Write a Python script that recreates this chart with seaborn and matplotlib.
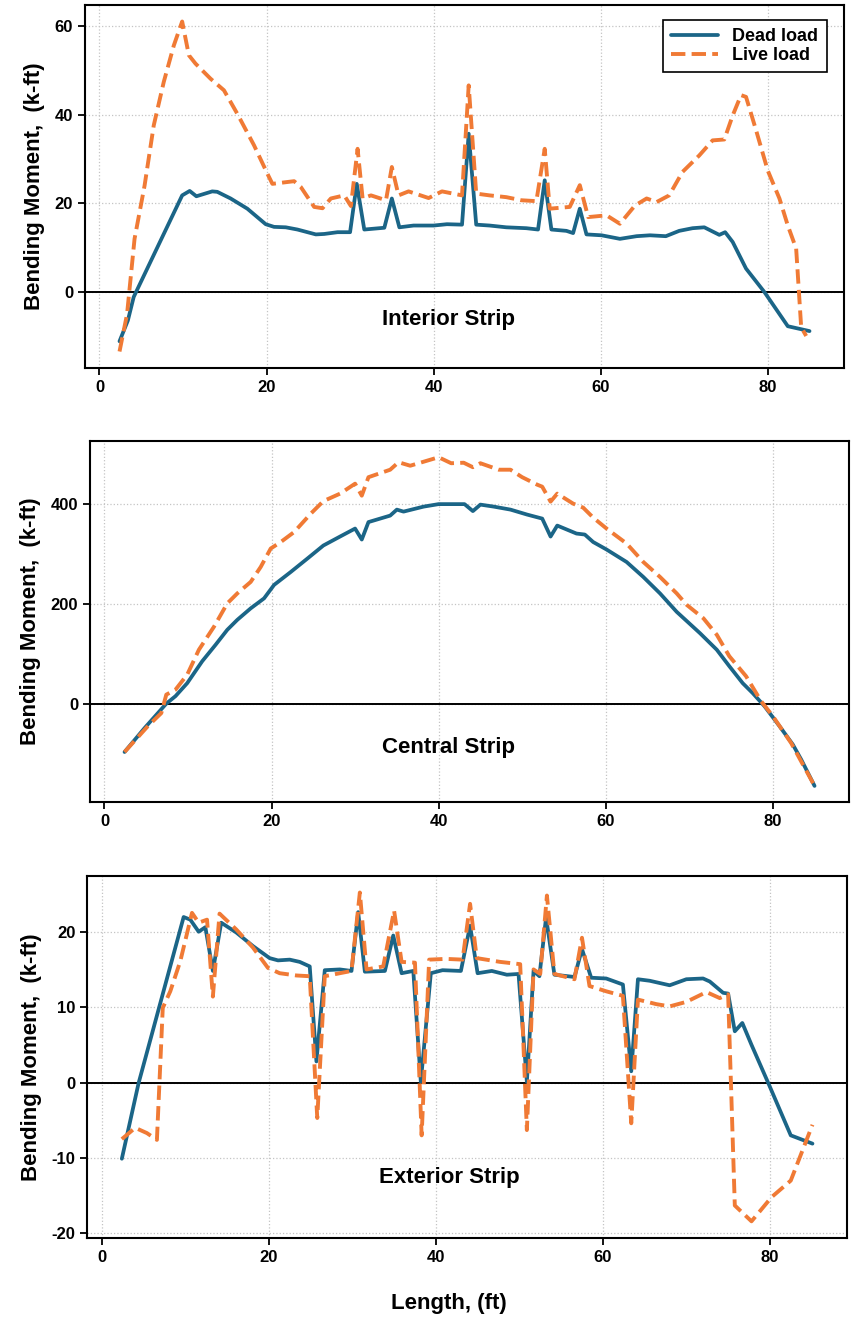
import numpy as np
import pandas as pd
import matplotlib
matplotlib.use("Agg")
import matplotlib.pyplot as plt
import matplotlib.transforms as mtransforms
import seaborn as sns

# Interior strip (k-ft)
int_dead_x = [2.4, 3.4, 4.1, 9.9, 10.8, 11.6, 13.5, 14.1, 15.7, 17.7, 19.9, 20.9, 22.3, 23.7, 25.9, 26.9,
              28.5, 30.0, 30.8, 31.7, 34.1, 35.0, 35.9, 37.6, 40.0, 41.6, 43.4, 44.2, 45.1, 46.7, 48.7, 51.1,
              52.5, 53.3, 54.1, 55.9, 56.7, 57.5, 58.3, 60.1, 62.3, 64.3, 65.9, 67.8, 69.4, 71.0, 72.4, 74.2,
              74.9, 75.8, 77.4, 79.6, 82.4, 85.0]
int_dead_y = [-11.1, -6.4, -1.1, 21.8, 22.8, 21.6, 22.7, 22.6, 21.1, 18.8, 15.3, 14.7, 14.6, 14.1, 13.0, 13.1,
              13.5, 13.5, 24.4, 14.1, 14.5, 21.1, 14.6, 15.0, 15.0, 15.3, 15.2, 35.7, 15.2, 15.0, 14.6, 14.4,
              14.1, 25.2, 14.1, 13.8, 13.3, 18.8, 13.0, 12.8, 12.0, 12.6, 12.8, 12.6, 13.8, 14.4, 14.6, 12.9,
              13.5, 11.3, 5.3, 0.0, -7.7, -8.8]
int_live_x = [2.4, 3.3, 4.2, 5.4, 6.5, 7.7, 8.9, 9.9, 10.7, 11.5, 13.3, 14.9, 16.5, 18.5, 20.1, 20.7, 23.3,
              24.1, 25.7, 26.7, 27.7, 29.3, 30.1, 30.9, 31.5, 32.5, 34.3, 35.0, 35.8, 37.0, 39.4, 41.0, 43.4,
              44.2, 45.1, 46.7, 48.7, 50.5, 52.3, 53.3, 53.9, 56.3, 57.5, 58.5, 60.7, 62.3, 64.1, 65.5, 66.7,
              68.2, 69.8, 71.8, 73.4, 74.8, 75.8, 76.8, 77.4, 78.6, 80.0, 81.4, 82.4, 83.4, 84.0, 84.6]
int_live_y = [-13.4, -5.0, 12.0, 24.0, 37.6, 47.4, 55.6, 61.0, 53.4, 51.5, 48.1, 45.5, 40.2, 33.1, 26.7, 24.4,
              25.0, 23.7, 19.2, 18.9, 21.1, 21.8, 19.4, 32.3, 21.1, 21.8, 20.7, 28.2, 21.8, 22.7, 21.2, 22.7,
              21.8, 46.6, 22.2, 21.8, 21.4, 20.7, 20.5, 32.3, 18.8, 19.2, 24.1, 16.9, 17.3, 15.4, 19.5, 21.1,
              20.3, 21.8, 27.1, 30.8, 34.2, 34.4, 39.8, 44.4, 44.0, 36.5, 27.4, 21.1, 15.0, 9.8, -7.9, -9.9]

# Central strip (k-ft)
cen_dead_x = [2.4, 4.8, 7.4, 8.5, 9.9, 11.7, 13.3, 14.7, 15.9, 17.5, 19.1, 20.3, 22.3, 24.3, 26.2, 28.2,
              30.0, 30.8, 31.6, 34.2, 35.0, 35.8, 38.2, 40.0, 43.1, 44.1, 45.0, 46.6, 48.6, 50.6, 52.4, 53.4,
              54.2, 56.5, 57.5, 58.5, 60.1, 62.5, 64.5, 66.5, 68.5, 71.3, 73.3, 74.8, 76.4, 77.6, 79.0, 80.8,
              82.4, 83.4, 85.0]
cen_dead_y = [-97, -49, 0, 15, 41, 85, 118, 148, 168, 191, 211, 238, 264, 291, 317, 335,
              351, 329, 364, 377, 389, 385, 395, 400, 400, 386, 399, 395, 389, 379, 371, 335,
              357, 341, 339, 324, 309, 284, 254, 221, 184, 141, 108, 75, 41, 21, -5, -45,
              -82, -112, -165]
cen_live_x = [2.4, 5.2, 6.8, 7.4, 8.5, 9.9, 11.3, 13.1, 14.7, 15.9, 17.5, 18.7, 19.9, 21.1, 22.7, 24.7,
              26.2, 28.2, 30.0, 30.8, 31.6, 34.2, 35.2, 36.6, 38.6, 40.0, 41.5, 43.0, 44.1, 45.0, 47.2, 48.6,
              50.0, 51.8, 52.4, 53.4, 54.2, 56.1, 57.3, 58.5, 60.1, 62.5, 64.5, 66.5, 68.5, 69.7, 71.7, 73.3,
              74.8, 76.8, 78.6, 80.0, 82.2, 85.0]
cen_live_y = [-97, -45, -19, 18, 28, 58, 108, 154, 201, 221, 244, 274, 311, 324, 344, 381,
              406, 421, 441, 417, 454, 469, 484, 477, 487, 494, 482, 483, 474, 482, 469, 469,
              454, 439, 435, 405, 421, 401, 393, 373, 351, 321, 284, 254, 221, 198, 171, 138,
              95, 55, 5, -25, -79, -165]

# Exterior strip (k-ft)
ext_dead_x = [2.4, 4.4, 9.8, 10.6, 11.6, 12.4, 13.3, 14.3, 16.1, 18.1, 20.1, 21.1, 22.5, 23.7, 24.9, 25.7,
              26.7, 28.5, 29.9, 30.7, 31.5, 33.9, 34.9, 35.9, 37.3, 38.2, 39.4, 40.8, 43.0, 44.1, 45.0, 46.7,
              48.5, 49.9, 50.9, 51.7, 52.4, 53.2, 54.2, 56.6, 57.5, 58.6, 60.4, 62.4, 63.4, 64.2, 65.6, 68.0,
              70.0, 72.0, 72.8, 74.4, 75.0, 75.8, 76.7, 77.8, 79.9, 82.5, 85.1]
ext_dead_y = [-10.1, -0.1, 21.95, 21.6, 20.0, 20.6, 14.8, 21.2, 19.9, 18.1, 16.5, 16.2, 16.3, 16.0, 15.4, 2.8,
              14.9, 15.0, 14.8, 22.6, 14.7, 14.8, 19.5, 14.5, 14.8, 0.1, 14.5, 14.9, 14.8, 20.8, 14.5, 14.8,
              14.3, 14.4, 0.1, 14.8, 14.1, 21.9, 14.3, 14.0, 17.7, 13.9, 13.8, 13.0, 1.5, 13.7, 13.5, 12.9,
              13.7, 13.8, 13.4, 11.9, 11.8, 6.8, 7.9, 5.0, -0.3, -7.0, -8.1]
ext_live_x = [2.4, 4.0, 5.4, 6.6, 7.3, 8.2, 9.4, 10.8, 11.6, 12.6, 13.3, 14.1, 16.1, 18.1, 19.9, 21.3,
              23.3, 24.9, 25.8, 26.7, 28.5, 29.9, 30.9, 31.7, 33.7, 35.0, 35.9, 37.5, 38.3, 39.2, 41.2, 43.2,
              44.1, 44.9, 47.7, 50.1, 50.9, 51.7, 52.5, 53.3, 54.2, 56.6, 57.5, 58.4, 60.4, 62.4, 63.4, 64.2,
              66.4, 68.0, 70.0, 72.4, 74.0, 75.0, 75.8, 77.8, 80.2, 82.5, 85.1]
ext_live_y = [-7.5, -6.0, -6.7, -7.6, 9.9, 12.1, 16.1, 22.5, 21.2, 21.6, 11.4, 22.4, 20.3, 17.9, 15.2, 14.5,
              14.2, 14.1, -4.7, 14.1, 14.5, 14.8, 25.2, 15.0, 15.4, 22.8, 16.0, 15.9, -7.0, 16.3, 16.4, 16.3,
              23.7, 16.5, 16.0, 15.7, -6.3, 15.0, 14.4, 24.8, 14.4, 13.7, 19.2, 12.8, 12.1, 11.5, -5.4, 11.0,
              10.4, 10.1, 10.7, 12.0, 11.2, 11.7, -16.3, -18.4, -15.2, -13.0, -5.6]

strip_names = ["Interior Strip", "Central Strip", "Exterior Strip"]
x_ticks = [0, 20, 40, 60, 80]
y_ticks = [[0, 20, 40, 60], [0, 200, 400], [-20, -10, 0, 10, 20]]

sns.set_style("ticks")
plt.rcParams['font.family'] = ['Liberation Sans', 'DejaVu Sans']
plt.rcParams['font.weight'] = 'bold'
plt.rcParams['axes.labelweight'] = 'bold'
plt.rcParams['axes.unicode_minus'] = False
for key in ['text.color', 'axes.labelcolor', 'xtick.color', 'ytick.color']:
    plt.rcParams[key] = 'black'

dead_color = "#1b6587"
live_color = "#f07a35"

fig = plt.figure(figsize=(8.51, 13.19), dpi=100)
# axes boxes in figure fraction (left, bottom, width, height)
boxes = [(0.0999, 0.7210, 0.8919, 0.2752),
         (0.1058, 0.3917, 0.8919, 0.2741),
         (0.1026, 0.0616, 0.8927, 0.2742)]
label_y = [0.118, 0.136, 0.151]

panels = [(int_dead_x, int_dead_y, int_live_x, int_live_y),
          (cen_dead_x, cen_dead_y, cen_live_x, cen_live_y),
          (ext_dead_x, ext_dead_y, ext_live_x, ext_live_y)]

for i, (dx, dy, lx, ly) in enumerate(panels):
    ax = fig.add_axes(boxes[i])
    dead = pd.DataFrame({'x': dx, 'y': dy})
    live = pd.DataFrame({'x': lx, 'y': ly})
    sns.lineplot(data=dead, x='x', y='y', ax=ax, color=dead_color, lw=2.7,
                 estimator=None, sort=False, label='Dead load', zorder=3)
    sns.lineplot(data=live, x='x', y='y', ax=ax, color=live_color, lw=2.8,
                 estimator=None, sort=False, label='Live load', linestyle='--', zorder=4)
    ax.axhline(0, color='black', lw=1.4, zorder=2)
    ax.grid(True, linestyle=':', color='#c4c4c4', lw=0.9)
    ax.set_xticks(x_ticks)
    ax.set_yticks(y_ticks[i])
    ax.tick_params(axis='both', labelsize=12, length=5, width=1.3, direction='out')
    for lab in ax.get_xticklabels() + ax.get_yticklabels():
        lab.set_fontweight('bold')
    for sp in ax.spines.values():
        sp.set_linewidth(1.5)
        sp.set_color('black')
    ax.set_xlabel('')
    ax.set_ylabel('Bending Moment,  (k-ft)', fontsize=16, fontweight='bold', labelpad=7)
    trans = mtransforms.blended_transform_factory(fig.transFigure, ax.transAxes)
    ax.text(449 / 851, label_y[i], strip_names[i], transform=trans, ha='center', va='baseline',
            fontsize=16, fontweight='bold')
    if i == 0:
        leg = ax.legend(loc='upper right', bbox_to_anchor=(0.977, 0.959), borderaxespad=0,
                        fancybox=False, edgecolor='black', framealpha=1, handlelength=2.6,
                        prop={'size': 13, 'weight': 'bold'}, borderpad=0.45, labelspacing=0.1)
        leg.get_frame().set_linewidth(1.2)
    else:
        ax.get_legend().remove()

fig.text(449 / 851, 1 - 1303 / 1319, 'Length, (ft)', ha='center', va='center',
         fontsize=16, fontweight='bold')

fig.savefig('out.png', dpi=100)
